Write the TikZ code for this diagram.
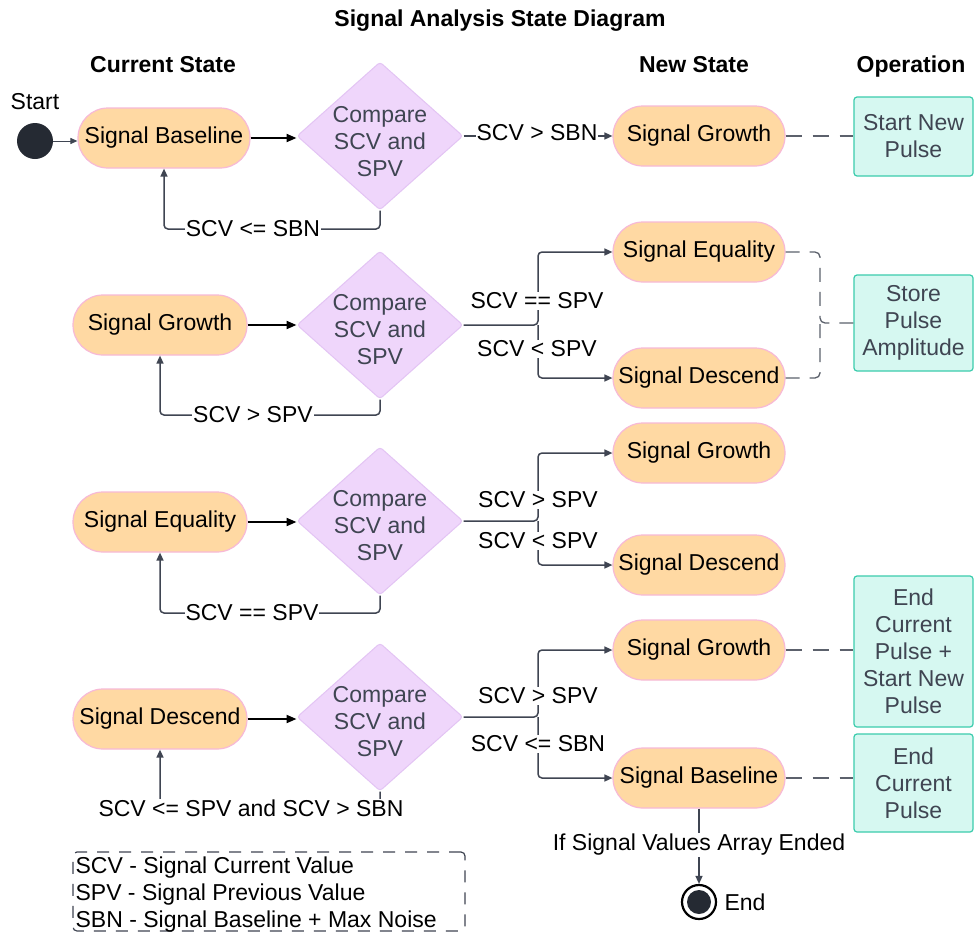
\documentclass[tikz,border=0pt]{standalone}
\usepackage{fontspec}
\setmainfont{Liberation Sans}
\usetikzlibrary{shapes.geometric,arrows.meta}
\definecolor{stfill}{HTML}{FFD9A3}
\definecolor{stline}{HTML}{F7B9D6}
\definecolor{dmfill}{HTML}{EFD6FB}
\definecolor{dmline}{HTML}{E3C4F4}
\definecolor{opfill}{HTML}{D6F8F1}
\definecolor{opline}{HTML}{3BCCAD}
\definecolor{ink}{HTML}{3F4552}
\definecolor{dot}{HTML}{252A33}
\begin{document}
\begin{tikzpicture}[x=1pt,y=-1pt,
  font=\fontsize{23}{27}\selectfont,
  state/.style={draw=stline, line width=1.2pt, fill=stfill, rounded corners=30pt,
    minimum height=60pt, minimum width=172pt, inner sep=0pt, text=black},
  decide/.style={diamond, draw=dmline, fill=dmfill, line width=1pt,
    minimum width=166pt, minimum height=148pt, inner sep=0pt, rounded corners=3pt},
  dtext/.style={align=center, text=ink, inner sep=0pt},
  opbox/.style={draw=opline, fill=opfill, line width=1.2pt, rounded corners=3pt,
    align=center, text=ink, inner sep=0pt, minimum width=119pt},
  conn/.style={draw=ink, line width=1.5pt, rounded corners=4pt},
  tip/.style={-{Triangle[length=8pt,width=7pt]}},
  main/.style={draw=black, line width=2pt, -{Triangle[length=10pt,width=8pt]}},
  lab/.style={fill=white, inner sep=1pt, text=black},
  link/.style={draw=ink!85, line width=1.3pt, dash pattern=on 16pt off 11pt},
  head/.style={font=\fontsize{23}{27}\selectfont\bfseries, anchor=base}
]
\fill[white] (0,0) rectangle (974,932);
\useasboundingbox (0,0) rectangle (974,932);

% headings
\node[head] (title) at (500,26) {Signal Analysis State Diagram};
\node[head] (hcur) at (163,72) {Current State};
\node[head] (hnew) at (694,72) {New State};
\node[head] (hop) at (911,72) {Operation};

% start
\node (startlab) at (35,102) {Start};
\node[circle, fill=dot, minimum size=36pt, inner sep=0pt] (start) at (35,141) {};

% current states
\node[state] (s1) at (164,138) {Signal Baseline};
\node[state, minimum width=174pt] (s2) at (160,325) {Signal Growth};
\node[state, minimum width=174pt] (s3) at (160,522) {Signal Equality};
\node[state, minimum width=174pt] (s4) at (160,719) {Signal Descend};

% decisions (text sits a little below the centre)
\node[decide] (d1) at (380,136) {};
\node[decide] (d2) at (380,325) {};
\node[decide] (d3) at (380,521) {};
\node[decide] (d4) at (380,717) {};
\node[dtext] (t1) at ([yshift=-6pt]d1.center) {Compare\\SCV and\\SPV};
\node[dtext] (t2) at ([yshift=-5pt]d2.center) {Compare\\SCV and\\SPV};
\node[dtext] (t3) at ([yshift=-5pt]d3.center) {Compare\\SCV and\\SPV};
\node[dtext] (t4) at ([yshift=-5pt]d4.center) {Compare\\SCV and\\SPV};

% new states
\node[state] (sg1) at (699,136) {Signal Growth};
\node[state] (se2) at (699,252) {Signal Equality};
\node[state] (sd2) at (699,378) {Signal Descend};
\node[state] (sg3) at (699,453) {Signal Growth};
\node[state] (sd3) at (699,565) {Signal Descend};
\node[state] (sg4) at (699,650) {Signal Growth};
\node[state] (sb4) at (699,778) {Signal Baseline};

% operations
\node[opbox, minimum height=79pt] (op1) at (913.5,136.5) {Start New\\Pulse};
\node[opbox, minimum height=96pt] (op2) at (913.5,323) {Store\\Pulse\\Amplitude};
\node[opbox, minimum height=151pt] (op4a) at (913.5,651.5) {End\\Current\\Pulse +\\Start New\\Pulse};
\node[opbox, minimum height=98pt] (op4b) at (913.5,783) {End\\Current\\Pulse};

% start and state-to-decision arrows
\draw[conn, line width=1pt, -{Triangle[length=7pt,width=6pt]}] (start) -- (start -| s1.west);
\draw[main] (s1.east) -- (s1.east -| d1.west);
\draw[main] (s2.east) -- (s2.east -| d2.west);
\draw[main] (s3.east) -- (s3.east -| d3.west);
\draw[main] (s4.east) -- (s4.east -| d4.west);

% self loops
\draw[conn, tip] (d1.south) -- (d1.south |- 0,229) -| (s1.south);
\node[lab] (f1) at (253,229) {SCV <= SBN};
\draw[conn, tip] (d2.south) -- (d2.south |- 0,415) -| (s2.south);
\node[lab] (f2) at (253,415) {SCV > SPV};
\draw[conn, tip] (d3.south) -- (d3.south |- 0,613) -| (s3.south);
\node[lab] (f3) at (252,613) {SCV == SPV};
\draw[conn, tip] (d4.south) -- (d4.south |- 0,807) -| (s4.south);
\node[lab] (f4) at (251,808) {SCV <= SPV and SCV > SBN};

% row 1 branch
\draw[conn, tip] (d1.east) -- (sg1.west |- d1.east);
\node[lab] (b1) at (537,133) {SCV > SBN};

% row 2 branches
\coordinate (j2) at (538,325);
\draw[conn, tip] (d2.east) -- (j2) |- (se2.west);
\draw[conn, tip] (j2) |- (sd2.west);
\node[lab] (b2a) at (537,301) {SCV == SPV};
\node[lab] (b2b) at (537,349) {SCV < SPV};

% row 3 branches
\coordinate (j3) at (538,521);
\draw[conn, tip] (d3.east) -- (j3) |- (sg3.west);
\draw[conn, tip] (j3) |- (sd3.west);
\node[lab] (b3a) at (538,500) {SCV > SPV};
\node[lab] (b3b) at (538,541) {SCV < SPV};

% row 4 branches
\coordinate (j4) at (538,717);
\draw[conn, tip] (d4.east) -- (j4) |- (sg4.west);
\draw[conn, tip] (j4) |- (sb4.west);
\node[lab] (b4a) at (538,696) {SCV > SPV};
\node[lab] (b4b) at (538,744) {SCV <= SBN};

% links to operations
\draw[link] (sg1.east) -- (op1.west |- sg1.east);
\coordinate (br2) at (820,323);
\draw[link, rounded corners=5pt, dash pattern=on 14pt off 10pt] (se2.east) -| (br2) -- (op2.west);
\draw[link, rounded corners=5pt, dash pattern=on 14pt off 10pt] (sd2.east) -| (br2);
\draw[link] (sg4.east) -- (op4a.west |- sg4.east);
\draw[link] (sb4.east) -- (op4b.west |- sb4.east);

% end
\node[circle, draw=black, line width=2.2pt, fill=white, minimum size=34pt, inner sep=0pt] (endc) at (699,902) {};
\node[circle, fill=dot, minimum size=24pt, inner sep=0pt] (endd) at (endc) {};
\node (endtxt) at (745,902) {End};
\draw[conn, tip] (sb4.south) -- (endc.north);
\node[lab] (endlab) at (699,845) {If Signal Values Array Ended};

% legend
\node[draw=ink, line width=1.2pt, dash pattern=on 12pt off 10pt, rounded corners=4pt,
  minimum width=392pt, minimum height=79pt, inner sep=0pt] (leg) at (269,891.5) {};
\node[anchor=west, align=left, inner xsep=3pt, text=black] (legtxt) at ([yshift=-3pt]leg.west)
  {SCV - Signal Current Value\\SPV - Signal Previous Value\\SBN - Signal Baseline + Max Noise};
\end{tikzpicture}
\end{document}
